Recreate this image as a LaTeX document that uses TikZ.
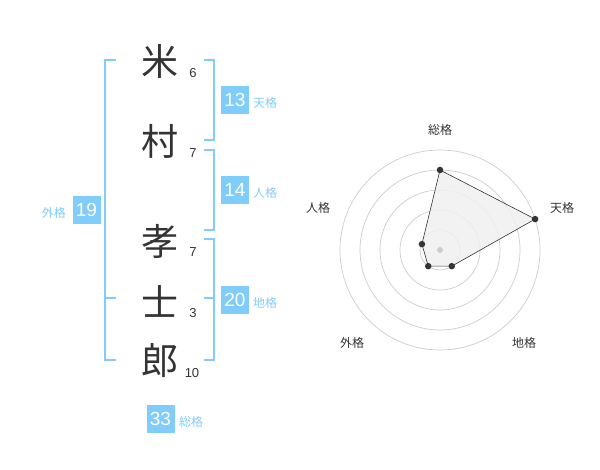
\documentclass[tikz,border=0pt]{standalone}
\usepackage{fontspec}
\usetikzlibrary{calc}
\setmainfont{Liberation Sans}
\newfontfamily\cjk{Noto Sans CJK JP}
\definecolor{kblue}{RGB}{128,204,250}
\definecolor{kdark}{RGB}{51,51,51}
\definecolor{kgrid}{RGB}{204,204,204}
\definecolor{kfill}{RGB}{240,240,240}
\tikzset{
  kanji/.style={font=\cjk\fontsize{37}{37}\selectfont, text=kdark, inner sep=0pt},
  strokes/.style={font=\fontsize{13}{13}\selectfont, text=kdark, inner sep=0pt},
  valbox/.style={fill=kblue, text=white, font=\fontsize{19}{19}\selectfont, minimum width=28pt, minimum height=28pt, inner sep=0pt},
  vallabel/.style={font=\cjk\fontsize{12}{12}\selectfont, text=kblue, inner sep=0pt},
  brk/.style={draw=kblue, line width=2pt},
  axlabel/.style={font=\cjk\fontsize{12}{12}\selectfont, text=kdark, inner sep=0pt},
  gridc/.style={draw=kgrid, line width=0.7pt},
  dot/.style={circle, fill=kdark, inner sep=0pt, minimum size=6.5pt},
}
\begin{document}
\begin{tikzpicture}[x=1pt,y=-1pt]
\useasboundingbox (0,0) rectangle (600,470);
% characters
\node[kanji] (c1) at (160,61) {米};
\node[kanji] (c2) at (160,141) {村};
\node[kanji] (c3) at (160,241) {孝};
\node[kanji] (c4) at (160,301) {士};
\node[kanji] (c5) at (160,361) {郎};
\node[strokes] (s1) at (193,73) {6};
\node[strokes] (s2) at (193,153) {7};
\node[strokes] (s3) at (193,252) {7};
\node[strokes] (s4) at (193,313) {3};
\node[strokes] (s5) at (192,373) {10};
% brackets
\coordinate (la) at (116,60); \coordinate (lb) at (116,360); \coordinate (lm) at (116,298);
\draw[brk] (la) -- (105,60) -- (105,360) -- (lb);
\draw[brk] (105,298) -- (lm);
\coordinate (t1) at (204,60); \coordinate (t2) at (204,140);
\draw[brk] (t1) -- (214,60) -- (214,140) -- (t2);
\coordinate (p1) at (204,150); \coordinate (p2) at (204,230);
\draw[brk] (p1) -- (214,150) -- (214,230) -- (p2);
\coordinate (g1) at (204,239); \coordinate (g2) at (204,360); \coordinate (gm) at (204,298);
\draw[brk] (g1) -- (214,239) -- (214,360) -- (g2);
\draw[brk] (214,298) -- (gm);
% value boxes
\node[valbox] (v13) at (235,100) {13};
\node[vallabel, anchor=west] (l13) at (253,103) {天格};
\node[valbox] (v14) at (235,190) {14};
\node[vallabel, anchor=west] (l14) at (253,193) {人格};
\node[valbox] (v20) at (235,300) {20};
\node[vallabel, anchor=west] (l20) at (253,303) {地格};
\node[valbox] (v19) at (86.5,210) {19};
\node[vallabel, anchor=east] (l19) at (66,213) {外格};
\node[valbox] (v33) at (160.5,419) {33};
\node[vallabel, anchor=west] (l33) at (179,422) {総格};
% radar
\coordinate (O) at (440,250);
\foreach \r in {20,40,60,80,100} \draw[gridc] (O) circle[radius=\r];
\coordinate (a1) at ($(O)+(-90:80)$);
\coordinate (a2) at ($(O)+(-18:100)$);
\coordinate (a3) at ($(O)+(54:20)$);
\coordinate (a4) at ($(O)+(126:20)$);
\coordinate (a5) at ($(O)+(-162:19)$);
\draw[kdark, line width=0.6pt, fill=kfill, fill opacity=0.85] (a1) -- (a2) -- (a3) -- (a4) -- (a5) -- cycle;
\node[circle, fill=kgrid, inner sep=0pt, minimum size=6pt] (ctr) at (O) {};
\foreach \p in {a1,a2,a3,a4,a5} \node[dot] at (\p) {};
\node[axlabel] (x1) at (440,130) {総格};
\node[axlabel] (x2) at (562,208) {天格};
\node[axlabel] (x3) at (524,343) {地格};
\node[axlabel] (x4) at (352,343) {外格};
\node[axlabel] (x5) at (318,208) {人格};
\end{tikzpicture}
\end{document}
